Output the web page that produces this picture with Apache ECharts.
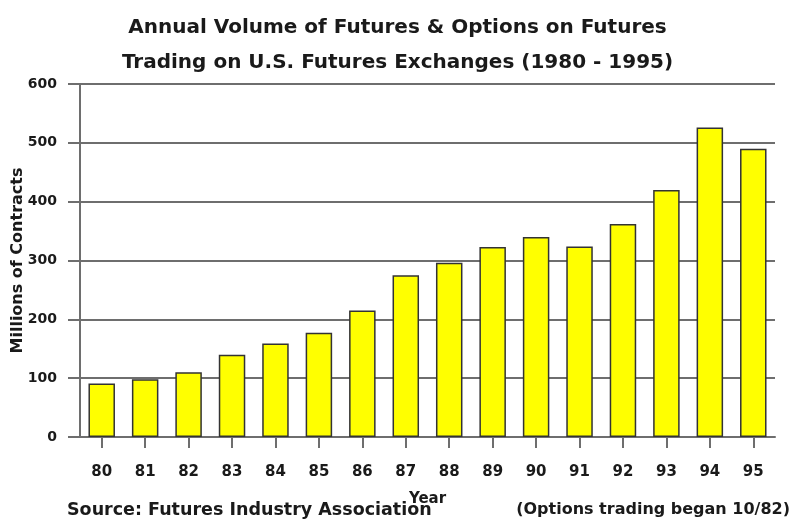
<!DOCTYPE html>
<html>
<head>
<meta charset="utf-8">
<style>
  html, body { margin: 0; padding: 0; background: #fff; }
  #chart { width: 795px; height: 521px; }
</style>
<script src="https://cdn.jsdelivr.net/npm/echarts@6/dist/echarts.min.js"></script>
</head>
<body>
<div id="chart"></div>
<script>
// Annual contract volume, millions, by two-digit year
const years = ['80', '81', '82', '83', '84', '85', '86', '87', '88', '89', '90', '91', '92', '93', '94', '95'];
const volumes = [91, 98, 110, 140, 159, 177, 215, 275, 296, 323, 340, 324, 362, 420, 526, 490];
const yTicks = [0, 100, 200, 300, 400, 500, 600];

const titleLines = [
  'Annual Volume of Futures & Options on Futures',
  'Trading on U.S. Futures Exchanges (1980 - 1995)'
];
const sourceNote = 'Source: Futures Industry Association';
const optionsNote = '(Options trading began 10/82)';

const FONT = 'DejaVu Sans';
const INK = '#1a1a1a';
const RULE = '#6e6e6e';

const chart = echarts.init(document.getElementById('chart'), null, { renderer: 'canvas' });

chart.setOption({
  animation: false,
  backgroundColor: '#ffffff',
  title: {
    text: titleLines.join('\n'),
    left: 'center',
    top: 5,
    textStyle: {
      fontFamily: FONT,
      fontWeight: 'bold',
      fontSize: 20,
      lineHeight: 35,
      color: INK
    }
  },
  grid: { left: 80, right: 20, top: 84, bottom: 84, containLabel: false, outerBoundsMode: 'none' },
  xAxis: {
    type: 'category',
    data: years,
    boundaryGap: true,
    name: 'Year',
    nameLocation: 'middle',
    nameGap: 55,
    nameMoveOverlap: false,
    nameTextStyle: { fontFamily: FONT, fontWeight: 'bold', fontSize: 15, color: INK },
    axisLine: { show: true, lineStyle: { color: RULE, width: 2 } },
    axisTick: { show: true, alignWithLabel: true, length: 11, inside: false, lineStyle: { color: RULE, width: 2 } },
    axisLabel: { fontFamily: FONT, fontWeight: 'bold', fontSize: 15, color: INK, margin: 28 },
    splitLine: { show: false }
  },
  yAxis: {
    type: 'value',
    min: yTicks[0],
    max: yTicks[yTicks.length - 1],
    interval: yTicks[1] - yTicks[0],
    name: 'Millions of Contracts',
    nameLocation: 'middle',
    nameGap: 54,
    nameMoveOverlap: false,
    nameRotate: 90,
    nameTextStyle: { fontFamily: FONT, fontWeight: 'bold', fontSize: 16, color: INK },
    axisLine: { show: true, lineStyle: { color: RULE, width: 2 } },
    axisTick: { show: true, length: 12, lineStyle: { color: RULE, width: 2 } },
    axisLabel: { fontFamily: FONT, fontWeight: 'bold', fontSize: 14, color: INK, margin: 23 },
    splitLine: { show: true, lineStyle: { color: RULE, width: 2 } }
  },
  series: [{
    type: 'bar',
    data: volumes,
    barWidth: '61%',
    itemStyle: { color: '#ffff00', borderColor: '#333333', borderWidth: 1.5 }
  }],
  graphic: [
    {
      type: 'text',
      left: 67,
      top: 501,
      style: { text: sourceNote, font: 'bold 17.5px "DejaVu Sans"', fill: INK }
    },
    {
      type: 'text',
      right: 5,
      top: 502,
      style: { text: optionsNote, font: 'bold 16px "DejaVu Sans"', fill: INK }
    }
  ]
});
</script>
</body>
</html>
